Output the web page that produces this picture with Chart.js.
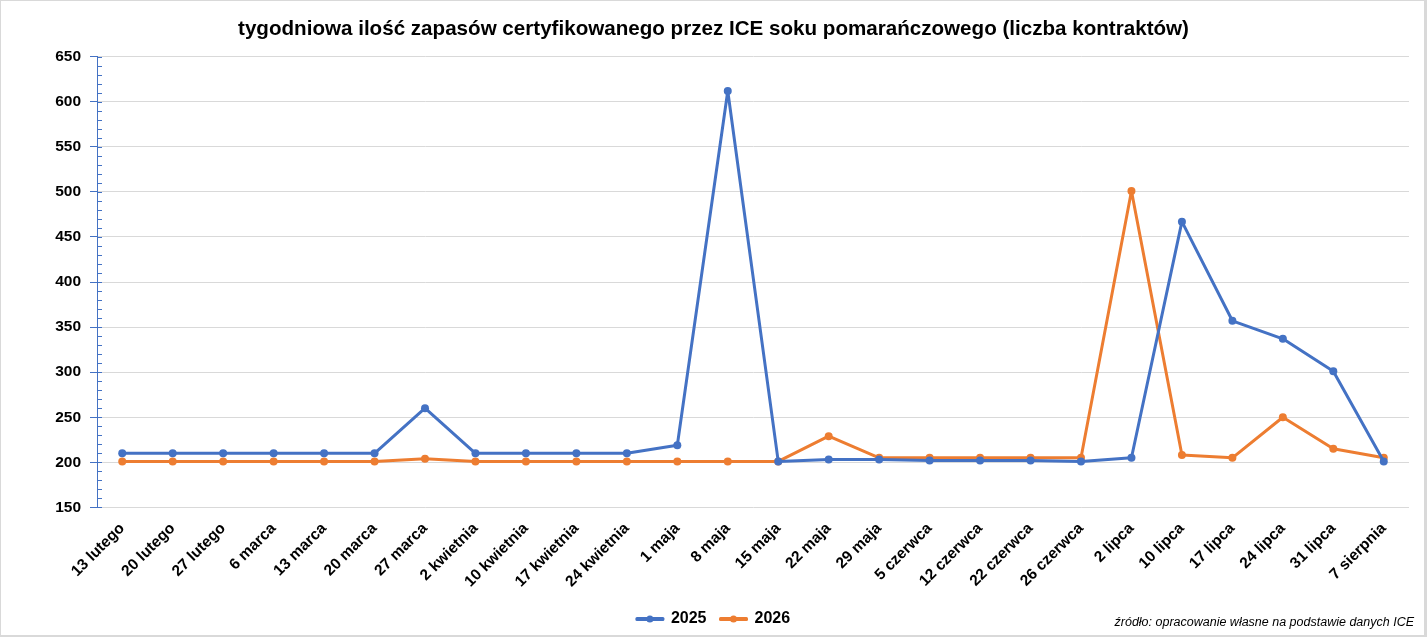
<!DOCTYPE html>
<html lang="pl">
<head>
<meta charset="utf-8">
<title>Zapasy soku pomarańczowego ICE</title>
<script src="https://cdn.jsdelivr.net/npm/chart.js@4"></script>
<style>
    html, body { margin: 0; padding: 0; background: #fff; overflow: hidden; }
    #wrap { position: relative; width: 1427px; height: 637px; }
    #chart { position: absolute; left: 0; top: 0; }
    #frame {
        position: absolute;
        left: 0; top: 0;
        width: 1427px; height: 637px;
        box-sizing: border-box;
        border: 1px solid #d9d9d9;
        border-right-width: 3px;
        border-bottom-width: 2px;
        pointer-events: none;
    }
    #source {
        position: absolute;
        right: 13px;
        bottom: 8px;
        font-family: "Liberation Sans", sans-serif;
        font-style: italic;
        font-size: 12.5px;
        color: #000;
    }
</style>
</head>
<body>
<div id="wrap">
    <canvas id="chart" width="1427" height="637"></canvas>
    <div id="frame"></div>
    <div id="source">źródło: opracowanie własne na podstawie danych ICE</div>
</div>
<script>
// Dane
const categories = [
    '13 lutego', '20 lutego', '27 lutego', '6 marca', '13 marca', '20 marca', '27 marca',
    '2 kwietnia', '10 kwietnia', '17 kwietnia', '24 kwietnia', '1 maja', '8 maja', '15 maja',
    '22 maja', '29 maja', '5 czerwca', '12 czerwca', '22 czerwca', '26 czerwca',
    '2 lipca', '10 lipca', '17 lipca', '24 lipca', '31 lipca', '7 sierpnia'
];
const values2025 = [
    210, 210, 210, 210, 210, 210, 260,
    210, 210, 210, 210, 219, 612, 201,
    203, 203, 202, 202, 202, 201,
    205, 467, 357, 337, 301, 201
];
const values2026 = [
    201, 201, 201, 201, 201, 201, 204,
    201, 201, 201, 201, 201, 201, 201,
    229, 205, 205, 205, 205, 205,
    501, 208, 205, 250, 215, 205
];
const yTicks = { min: 150, max: 650, step: 50, minorStep: 10 };

const BLUE = '#4472c4';
const ORANGE = '#ed7d31';
const FONT = '"Liberation Sans", Arial, sans-serif';

// Drobne podziałki osi Y (po prawej stronie osi) + kropki w legendzie
const extrasPlugin = {
    id: 'extras',
    afterDraw(chart) {
        const ctx = chart.ctx;
        const y = chart.scales.y;
        const x0 = y.right;
        ctx.save();
        ctx.strokeStyle = BLUE;
        ctx.lineWidth = 1;
        for (let v = yTicks.min; v <= yTicks.max; v += yTicks.minorStep) {
            const py = Math.round(y.getPixelForValue(v)) + 0.5;
            ctx.beginPath();
            ctx.moveTo(x0, py);
            ctx.lineTo(x0 + 5, py);
            ctx.stroke();
        }
        // kropki na liniach legendy
        const boxes = chart.legend.legendHitBoxes || [];
        boxes.forEach((b, i) => {
            const ds = chart.data.datasets[i];
            const cx = b.left + 13;
            const cy = b.top + b.height / 2;
            ctx.fillStyle = ds.borderColor;
            ctx.beginPath();
            ctx.arc(cx, cy, 3.5, 0, Math.PI * 2);
            ctx.fill();
        });
        ctx.restore();
    }
};

const ctx = document.getElementById('chart').getContext('2d');
new Chart(ctx, {
    type: 'line',
    data: {
        labels: categories,
        datasets: [{
            label: '2025',
            data: values2025,
            borderColor: BLUE,
            backgroundColor: BLUE,
            borderWidth: 3,
            borderJoinStyle: 'round',
            pointRadius: 4,
            pointBackgroundColor: BLUE,
            pointBorderWidth: 0,
            tension: 0
        }, {
            label: '2026',
            data: values2026,
            borderColor: ORANGE,
            backgroundColor: ORANGE,
            borderWidth: 3,
            borderJoinStyle: 'round',
            pointRadius: 4,
            pointBackgroundColor: ORANGE,
            pointBorderWidth: 0,
            tension: 0
        }]
    },
    options: {
        responsive: false,
        animation: false,
        devicePixelRatio: 1,
        layout: { padding: { left: 8, right: 8, top: 0, bottom: 0 } },
        plugins: {
            title: {
                display: true,
                text: 'tygodniowa ilość zapasów certyfikowanego przez ICE soku pomarańczowego (liczba kontraktów)',
                color: '#000',
                font: { family: FONT, size: 20.6, weight: 'bold' },
                padding: { top: 17, bottom: 15 }
            },
            legend: {
                position: 'bottom',
                labels: {
                    color: '#000',
                    font: { family: FONT, size: 16, weight: 'bold' },
                    boxWidth: 26,
                    boxHeight: 1,
                    padding: 14
                }
            },
            tooltip: { enabled: false }
        },
        scales: {
            x: {
                offset: true,
                afterFit(scale) { scale.height += 2; },
                grid: { display: false },
                border: { display: false },
                ticks: {
                    color: '#000',
                    font: { family: FONT, size: 15.5, weight: 'bold' },
                    maxRotation: 45,
                    minRotation: 45,
                    autoSkip: false,
                    padding: 4
                }
            },
            y: {
                min: yTicks.min,
                max: yTicks.max,
                afterFit(scale) { scale.width = 89; },
                grid: {
                    color: '#d9d9d9',
                    lineWidth: 1,
                    tickColor: BLUE,
                    tickLength: 7
                },
                border: { display: true, color: BLUE, width: 1 },
                ticks: {
                    stepSize: yTicks.step,
                    color: '#000',
                    font: { family: FONT, size: 15.5, weight: 'bold' },
                    padding: 9
                }
            },
            // pusta oś po prawej – tylko margines obszaru wykresu
            yRight: {
                position: 'right',
                afterFit(scale) { scale.width = 10; },
                grid: { display: false },
                border: { display: false },
                ticks: { display: false }
            }
        }
    },
    plugins: [extrasPlugin]
});
</script>
</body>
</html>
